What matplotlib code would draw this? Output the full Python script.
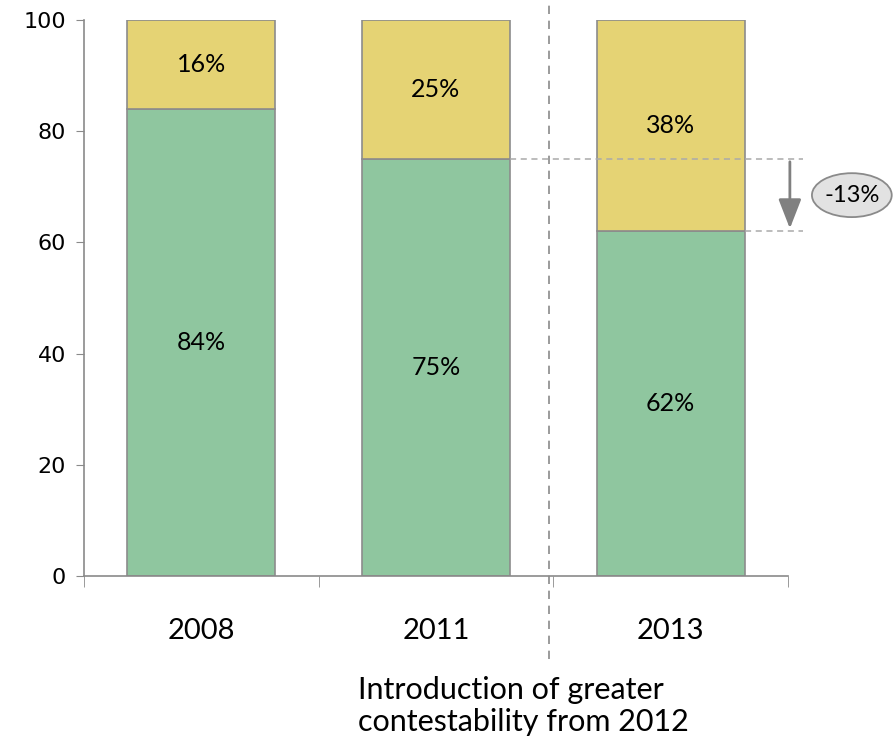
import matplotlib
matplotlib.use("Agg")
import matplotlib.pyplot as plt
from matplotlib.patches import Ellipse

plt.rcParams["font.family"] = ["Lato", "DejaVu Sans"]

years = ["2008", "2011", "2013"]
green_vals = [84, 75, 62]
yellow_vals = [16, 25, 38]
y_ticks = [0, 20, 40, 60, 80, 100]

green = "#8fc69f"
yellow = "#e5d374"
edge = "#8c8c8c"
gray = "#8a8a8a"

fig = plt.figure(figsize=(8.93, 7.41), dpi=100)
ax = fig.add_axes([84 / 893, 1 - 576 / 741, (788 - 84) / 893, (576 - 20) / 741])

x = list(range(len(years)))
ax.bar(x, green_vals, width=0.63, color=green, edgecolor=edge, linewidth=1.2)
ax.bar(x, yellow_vals, width=0.63, bottom=green_vals, color=yellow,
       edgecolor=edge, linewidth=1.2)

for i in x:
    ax.text(i, green_vals[i] / 2, f"{green_vals[i]}%", ha="center", va="center",
            fontsize=18)
    ax.text(i, green_vals[i] + yellow_vals[i] / 2, f"{yellow_vals[i]}%",
            ha="center", va="center", fontsize=18)

ax.set_xlim(-0.5, 2.5)
ax.set_ylim(0, 100)
ax.set_yticks(y_ticks)
ax.set_xticks(x)
ax.set_xticklabels(years, fontsize=21)
ax.set_xticks([-0.5, 0.5, 1.5, 2.5], minor=True)
ax.tick_params(axis="x", which="major", length=0, pad=30)
ax.tick_params(axis="x", which="minor", length=8, color=gray, direction="out")
ax.tick_params(axis="y", length=6, color=gray, pad=7, labelsize=16,
               labelfontfamily="DejaVu Sans")
for s in ["top", "right"]:
    ax.spines[s].set_visible(False)
for s in ["left", "bottom"]:
    ax.spines[s].set_color(gray)
    ax.spines[s].set_linewidth(1.2)

# vertical divider for 2012 policy change
ax.plot([1.48, 1.48], [-15, 104], ls=(0, (5, 4)), color=gray, lw=1.2,
        clip_on=False)

# dashed guides + arrow showing the drop
ax.plot([1.315, 2.565], [green_vals[1]] * 2, ls=(0, (4, 3)), color="#aaaaaa",
        lw=1.1, clip_on=False)
ax.plot([2.315, 2.565], [green_vals[2]] * 2, ls=(0, (4, 3)), color="#aaaaaa",
        lw=1.1, clip_on=False)
ax.annotate("", xy=(2.508, green_vals[2]), xytext=(2.508, green_vals[1]),
            arrowprops=dict(arrowstyle="-|>,head_length=1.8,head_width=0.7",
                            color="#808080", lw=2), annotation_clip=False)
diff = green_vals[2] - green_vals[1]
ell = Ellipse((2.772, 68.5), 0.34, 7.9, facecolor="#e2e2e2", edgecolor="#8a8a8a",
              lw=1.3, clip_on=False)
ax.add_patch(ell)
ax.text(2.772, 68.5, f"{diff}%", ha="center", va="center", fontsize=17)

fig.text(358 / 893, 1 - 706 / 741, "Introduction of greater\ncontestability from 2012",
         ha="left", va="center", fontsize=22, linespacing=1.15)

fig.savefig("out.png", dpi=100)
